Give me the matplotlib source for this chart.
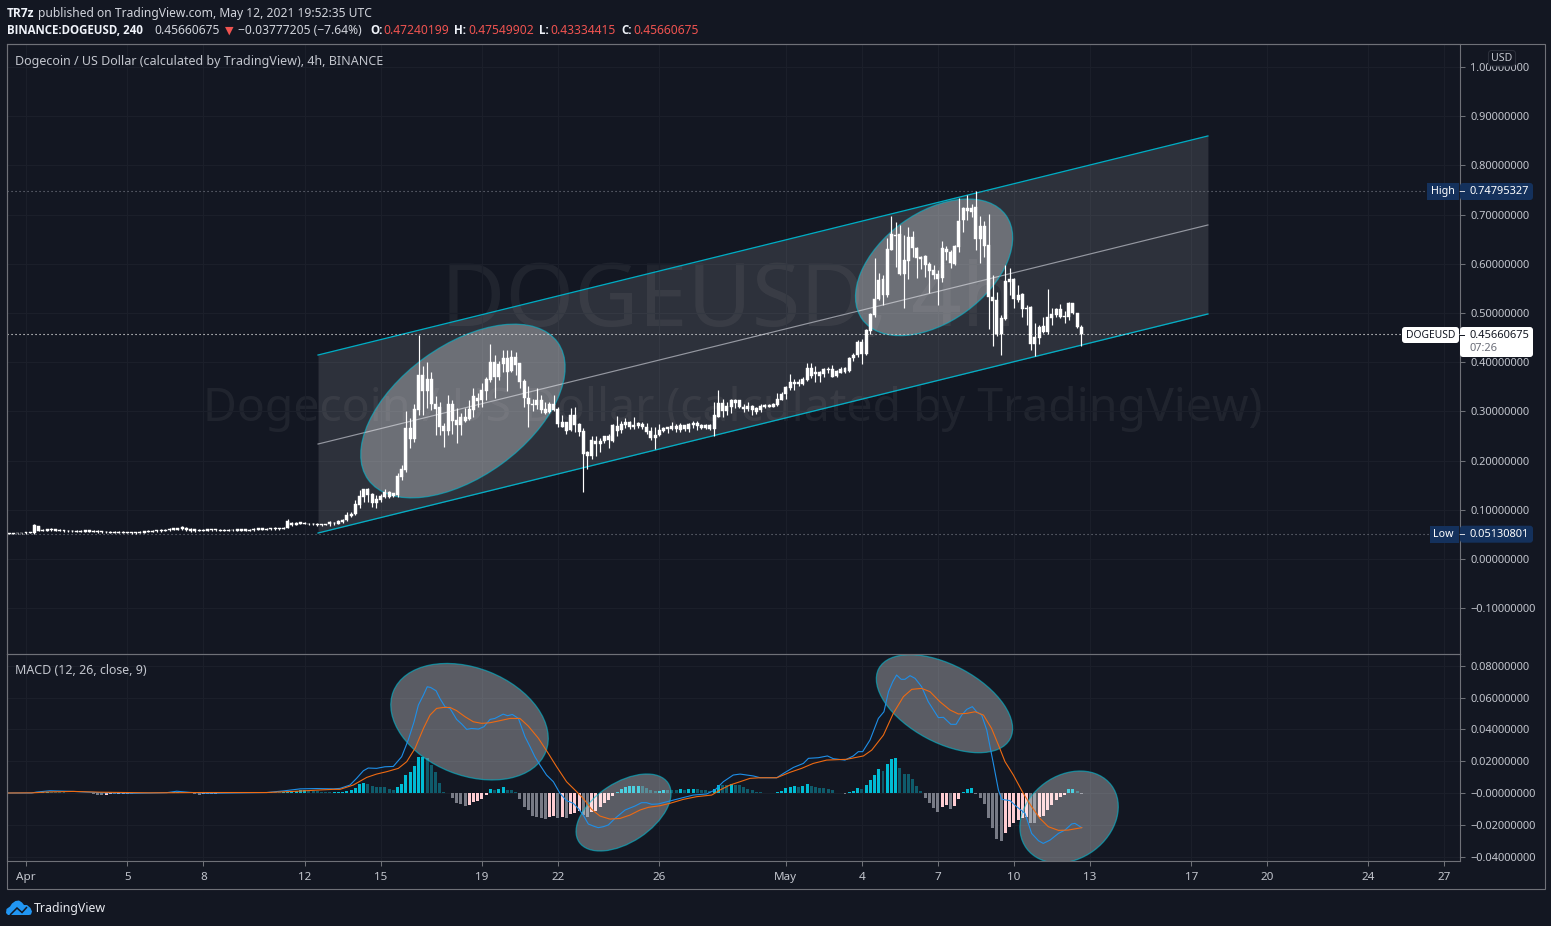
import numpy as np
import matplotlib
matplotlib.use("Agg")
import matplotlib.pyplot as plt
from matplotlib.patches import Ellipse, Rectangle, FancyBboxPatch, Polygon
from matplotlib.transforms import Affine2D, IdentityTransform

# ---------- data (prices in thousandths of a dollar, one bar every 4 h, first bar 4 bars before Apr 1) ----------
bar_index = list(range(-4, 251))

body_top = [52,52,52,52,54,54,69,67,59,60,61,60,59, 58,57,57,57,57, 58,58,57,57,56, 55,55,55,55,55, 54,54,54,55,56,
 57,57,58,58,59, 61,62,62,65,64, 61,60,59,59,60, 60,60,59,59,59, 59,60,60,60,59, 61,62,62,61,63, 63,63,64,78,74, 73,
 75,74,72,72,71,71,71,75,74,78, 80,89,92,112,128,142,143,133,122,128, 136,136,134,168,183,267,267,305,374,374,
 365,365,316,308,270,316,316,282,288,288, 304,331,328,343,366,400,400,396,408,408, 411,411,398,362,328,316,323,323,304,315,
 315,305,278,278,293,293,274,260,217,242, 240,240,249,249,272,270,274,279,278,272, 276,274,269,261,252,263,267,268,270,270,
 272,272,274,276,277,272,272,273,292,318, 318,311,323,323,323,309,311,311,306,311, 313,314,315,325,336,349,359,360,360,365,
 389,389,380,380,386,387,387,382,387,389, 408,414,441,441,465,497,528,568,570,630, 660,658,660,608,654,654,633,613,616,599,
 587,580,633,631,624,636,688,713,713,713, 715,677,677,638,533,526,489,565,570,570, 536,538,511,513,452,472,473,492,497,508,
 508,494,521,521,499,472]

body_low = [51,51,52,52,52,53,52,57,57,57,58,57,57, 56,56,56,55,55, 55,55,55,54,54, 54,53,53,53,53, 53,52,52,53,53,
 55,55,56,56,57, 58,59,59,60,59, 57,56,57,57,57, 58,58,57,57,57, 58,57,57,57,57, 58,59,59,59,60, 60,60,61,64,69, 70,
 72,72,71,71,70,70,70,71,73,72, 76,79,87,91,109,126,130,113,113,120, 126,127,128,131,166,181,243,243,303,342,
 342,316,304,269,261,261,280,272,272,281, 284,303,321,323,342,364,369,369,396,381, 382,394,359,327,316,313,312,303,297,299,
 303,274,269,261,262,272,259,213,210,209, 234,234,240,242,240,261,262,272,268,269, 271,268,258,245,246,252,261,265,265,265,
 263,265,264,272,271,267,267,265,265,289, 301,300,308,317,308,304,304,303,299,303, 309,309,309,313,323,335,347,355,355,355,
 363,372,376,372,377,384,370,372,378,380, 382,408,414,416,416,464,496,528,536,536, 629,656,579,579,606,633,612,610,597,586,
 578,570,572,623,601,599,635,689,708,706, 650,650,637,532,525,457,457,488,563,528, 526,509,509,438,438,450,462,462,490,496,
 492,491,491,499,472,457]

wick_high = [53,53,53,53,55,55,71,68,60,61,62,61,60, 59,58,58,58,58, 59,59,58,58,57, 56,56,56,56,56, 55,55,55,56,57,
 58,58,59,60,61, 63,64,64,67,66, 62,61,60,60,61, 61,61,60,60,60, 60,61,61,61,60, 62,63,63,62,64, 65,64,65,81,76, 75,
 76,75,73,73,73,72,72,77,76,79, 82,96,96,120,140,143,145,135,130,132, 143,139,135,174,192,301,286,316,455,392,
 400,381,331,320,277,333,323,306,296,306, 323,347,337,357,369,437,415,403,425,425, 425,421,398,365,352,326,347,333,320,320,
 333,308,293,279,306,308,277,267,220,249, 249,245,251,255,274,291,280,286,280,289, 279,279,276,269,269,274,269,269,279,274,
 276,273,277,280,280,275,275,275,319,344, 326,319,326,326,324,316,319,313,309,316, 316,316,317,338,340,351,377,366,365,370,
 399,399,392,382,389,391,394,385,391,391, 411,419,446,448,467,499,611,582,577,652, 697,684,679,658,674,667,635,616,618,604,
 597,587,647,636,628,638,733,715,740,721, 748,697,686,702,577,543,496,597,591,572, 557,540,516,514,480,475,492,549,511,511,
 519,504,523,521,500,475]

wick_low = [51,51,51,51,51,52,51,56,56,56,57,56,56, 55,55,54,54,54, 54,54,54,53,53, 53,52,52,52,52, 52,51,51,52,52,
 54,54,55,55,56, 57,58,58,59,57, 55,55,56,56,56, 57,57,56,56,56, 57,56,56,56,56, 57,58,58,58,59, 59,59,60,63,68, 69,
 71,71,69,69,68,68,69,68,70,71, 74,78,86,90,103,116,116,105,103,116, 123,123,126,126,160,177,225,238,293,293,
 306,303,252,252,228,252,255,235,252,279, 282,289,308,308,323,360,328,364,381,342, 381,374,347,308,269,301,304,296,295,296,
 301,268,269,254,260,259,250,137,182,204, 209,218,235,226,238,249,257,267,265,265, 267,265,255,242,223,249,259,257,262,259,
 259,261,259,267,263,265,265,263,250,288, 289,292,296,306,306,299,301,292,294,299, 306,308,308,311,323,326,343,343,351,353,
 362,367,360,360,370,378,369,370,378,379, 380,403,411,396,414,457,492,526,516,533, 629,594,577,511,570,614,572,589,574,540,
 570,516,564,608,591,597,625,665,689,696, 628,601,614,467,433,453,414,486,536,511, 523,491,475,424,412,438,460,458,475,492,
 489,480,486,498,469,433]

# MACD histogram, thousandths
macd_hist = [0,0,0,0,0,.1,.3,.5,.6,
 .7,.6,.5,.5,.4,.3,.2,.1,-.1,-.3, -.3,-.4,-1.0,-1.1,-1.1,-.8,-.9,-.7,-.6,-.4,
 -.6,-.3,-.2,-.1,0,0,.1,.1,.2,.2, .5,.6,.6,.3,-.2,-.4,-1.0,-.8,-.6,-.5,
 -.4,-.3,.3,.4,.5,.6,.6,.5,.4,.3, .3,.3,.5,.6,.4,.4,.5,.7,1,1.5,
 1.8,2,1.5,1.2,1,.6,.4,.4,.5,.7, .8,1.3,2.1,3.4,5.5,6.5,5.9,4.4,3.8,3.8,
 3.8,2.5,2.1,3.8,5.7,11.3,13.4,17,22.6,22.7, 21.8,17.6,13.2,6.5,.8,.2,-2.9,-6.1,-6.9,-8.2,
 -7.3,-5.7,-4.8,-3.8,-1,2.3,1.9,2.5,3.8,2.1, 1.9,.6,-3.8,-8.6,-10.9,-14.3,-14.9,-15.9,-16.3,-14.9,
 -14.5,-15.5,-14.9,-15.9,-13.2,-12.8,-11.5,-13.8,-14.9,-11.7, -11.3,-8.6,-6.5,-4.4,-1.7,.8,2.5,3.6,4.2,4.4,
 4.6,4.4,3.1,1.9,1,1.5,1.9,1.9,1.9,1.7, 2.3,2.1,2.5,2.6,2.3,1.9,1.9,1.3,2.5,5,
 5,5,5.7,5,5,4,2.5,1.9,.8,.4, .2,.1,.1,.8,1.3,2.9,4,4.4,4,4.6,
 5.7,4.4,4,3.4,3.1,2.5,1.7,.2,.1,-.8, .4,1.3,3.1,2.5,5,8.2,11.3,15.1,14,18.2,
 21.2,22,15.9,11.9,11.9,8.8,4.6,1.3,-3.4,-6.3, -9.2,-11.7,-8.6,-7.5,-10.1,-8.2,-3.8,.6,2.5,3.1,
 -.8,-3.1,-6.9,-15.9,-21.8,-28.9,-30.2,-25.2,-21.2,-18.7, -17,-15.9,-14.9,-18.7,-18.8,-14.9,-14.3,-10.7,-7.5,-4.4,
 -2.5,-1,2.5,2.6,1.5,-.6]

macd_days = [-.70,.22,.42,.95,1.87,2.92,4.24,5.55,5.95,6.47,7.13,9.50,10.16,10.82,11.47,12.13,
 12.40,12.79,13.05,13.32,13.51,13.84,14.17,14.50,14.83,15.09,15.32,15.49,15.69,15.84,15.97,16.19,16.34,16.54,16.74,17.00,
 17.20,17.40,17.59,17.86,18.08,18.32,18.51,18.84,19.01,19.20,19.44,19.70,19.90,20.09,20.29,20.55,20.82,21.08,21.34,21.61,
 21.80,22.00,22.20,22.40,22.59,22.79,22.99,23.25,23.65,24.04,24.30,24.50,24.70,24.96,25.42,25.82,26.34,26.87,27.20,27.53,27.92,
 28.19,28.72,28.98,29.64,29.90,30.30,30.69,30.89,31.28,31.64,31.87,32.33,32.66,32.86,33.03,33.32,33.65,33.87,34.05,34.22,34.37,
 34.55,34.70,34.90,35.10,35.36,35.62,36.02,36.22,36.51,36.72,36.94,37.14,37.36,37.53,37.73,37.93,38.19,38.39,38.52,38.85,39.11,
 39.44,39.70,39.97,40.16,40.43,40.76,41.02,41.28,41.41,41.68]
macd_line = [0,0,.6,1.4,1.0,.2,-.2,.2,1.1,.4,-.2,.3,1.3,2.6,2.8,2.6,
 2.9,5.0,9.2,14.0,15.7,15.5,16.5,16.7,22.8,33.3,44.8,55.3,61.6,66.8,66.4,64.3,59.5,54.3,53.2,46.3,
 43.4,40.0,40.6,40.2,41.7,46.3,46.9,49.6,48.6,49.4,46.9,35.4,29.1,22.8,17.6,11.3,7.1,-.2,-4.8,-6.5,
 -9.7,-13.9,-19.5,-20.8,-21.8,-21.2,-20.1,-16,-10.7,-8.2,-6.1,-6.1,-7.1,-6.9,-5,-3.4,-1.3,-.6,1.9,7.1,11.3,
 11.9,10.7,9.6,9.6,12.3,16.1,18.6,21.8,22.2,23.3,21.6,20.7,23.3,26,26,33.3,46.9,51.1,63.7,70,74.2,
 71.5,71.5,73.8,72.1,66.8,57.4,47.4,47.6,43.2,43.2,49,52.6,54.3,51.1,49,39.6,18.6,1.9,-4,-4.8,-8.6,
 -12.8,-25.4,-30,-31.7,-29.6,-25.4,-23.3,-19.5,-19.1,-21.8]

signal_days = [-.70,.23,.95,1.87,2.92,4.9,6.87,9.5,10.55,11.47,12.13,
 12.40,12.92,13.45,13.84,14.24,14.70,15.03,15.36,15.69,15.95,16.21,16.47,16.74,17.00,17.33,17.66,17.99,18.32,18.71,19.11,19.50,
 19.83,20.23,20.62,20.95,21.34,21.74,22.00,22.33,22.66,23.05,23.45,23.84,24.24,24.57,25.03,25.42,25.95,26.48,27.07,27.40,27.79,
 28.19,28.58,28.98,29.64,30.16,30.62,31.08,31.61,32.40,33.06,33.39,33.85,34.24,34.64,34.97,35.36,35.69,36.08,36.48,36.81,37.14,37.47,
 37.80,38.12,38.39,38.65,38.98,39.37,39.70,40.03,40.36,40.76,41.15,41.68]
signal_line = [0,.1,.7,1.0,.5,.1,.3,.3,1.0,1.8,2.3,
 2.3,5,9.8,11.9,13.4,15.5,19.7,28.1,40.6,49,53.2,53.8,53.8,51.8,48,44.8,43.8,44.2,45.5,46.9,46.9,
 42.1,34.4,24.9,16.5,7.1,.8,-3.4,-10.3,-14.5,-16.4,-16,-13.9,-10.7,-9,-8,-6.5,-4,-2.3,-1.3,1.9,5,
 7.1,9.2,9.6,9.6,13,15.5,18.6,20.7,21.2,23.3,27,36.4,50.1,60.6,65.2,65.8,63.7,57.4,52.2,49.7,50.1,51.1,
 49,40.6,30.2,19.7,11.3,-.2,-8.6,-16,-21.2,-23.5,-23.3,-21.8]

# channel drawing
channel_days = [11.53, 46.66]
channel_upper = [0.4146, 0.8598]
channel_mid = [0.2337, 0.6789]
channel_lower = [0.0528, 0.4980]

# time axis: day offset from Apr 1 and label
time_ticks = [0, 4, 7, 11, 14, 18, 21, 25, 30, 33, 36, 39, 42, 46, 49, 53, 56]
time_labels = ["Apr", "5", "8", "12", "15", "19", "22", "26", "May", "4", "7", "10", "13", "17", "20", "24", "27"]
price_ticks = [1.0, .9, .8, .7, .6, .5, .4, .3, .2, .1, 0.0, -.1]
price_labels = ["1.00000000", "0.90000000", "0.80000000", "0.70000000", "0.60000000", "0.50000000", "0.40000000",
                "0.30000000", "0.20000000", "0.10000000", "0.00000000", "\u22120.10000000"]
macd_ticks = [.08, .06, .04, .02, 0.0, -.02, -.04]
macd_labels = ["0.08000000", "0.06000000", "0.04000000", "0.02000000", "\u22120.00000000", "\u22120.02000000", "\u22120.04000000"]

price_high = 0.74795327
price_low = 0.05130801
price_last = 0.45660675

# ---------- style ----------
BG = "#131722"
FRAME = "#6f7178"
GRID = "#1b1f2a"
TXT = "#c3c6ce"
CYAN = "#00bcd4"
FONT = "Noto Sans"
BOLD = "Open Sans"
plt.rcParams["font.family"] = FONT

W, H = 1551, 926
fig = plt.figure(figsize=(W / 100, H / 100), dpi=100, facecolor=BG)
pix = Affine2D().scale(1, -1).translate(0, H)  # reference pixel coordinates


def add_axes(x0, y0, x1, y1):
    a = fig.add_axes([x0 / W, 1 - y1 / H, (x1 - x0) / W, (y1 - y0) / H])
    a.set_facecolor("none")
    return a


X0, X1 = 7, 1460
ax = add_axes(X0, 44, X1, 653.5)
ax2 = add_axes(X0, 653.5, X1, 861)
xlim = ((X0 - 26) / 25.33, (X1 - 26) / 25.33)
ax.set_xlim(*xlim)
ax2.set_xlim(*xlim)
ax.set_ylim((559 - 653.5) / 492, (559 - 44) / 492)
ax2.set_ylim((793 - 861) / 1590, (793 - 653.5) / 1590)

for a in (ax, ax2):
    for s in a.spines.values():
        s.set_color(FRAME)
        s.set_linewidth(0.8)
    a.grid(True, color=GRID, linewidth=0.8, zorder=0)
    a.set_axisbelow(True)
    a.yaxis.tick_right()
    a.tick_params(axis="y", colors=FRAME, length=3.6, width=0.75, pad=3.8, labelcolor=TXT, labelsize=7.95)
    a.set_xticks(time_ticks)

ax.set_yticks(price_ticks)
ax.set_yticklabels(price_labels)
ax2.set_yticks(macd_ticks)
ax2.set_yticklabels(macd_labels)
ax.tick_params(axis="x", length=0, labelbottom=False)
ax2.set_xticklabels(time_labels)
ax2.tick_params(axis="x", colors=FRAME, length=3.6, width=0.75, pad=4.6, labelcolor=TXT, labelsize=8.4)

# outer frame
fig.add_artist(Rectangle((6.5, 43.5), 1538.5, 845.5, transform=pix, fill=False, edgecolor=FRAME, linewidth=0.8, zorder=1))

# watermark
ax.text(729, 303, "DOGEUSD, 4h", transform=pix, fontsize=63.5, color="white", alpha=0.06, ha="center", va="center", zorder=0.5)
ax.text(733, 409, "Dogecoin / US Dollar (calculated by TradingView)", transform=pix, fontsize=33.4, color="white", alpha=0.06,
        ha="center", va="center", zorder=0.5)

# channel
ax.fill_between(channel_days, channel_lower, channel_upper, color="white", alpha=0.115, linewidth=0, zorder=1)
ax.plot(channel_days, channel_upper, color=CYAN, lw=0.95, zorder=1.5, alpha=0.9)
ax.plot(channel_days, channel_lower, color=CYAN, lw=0.95, zorder=1.5, alpha=0.9)
ax.plot(channel_days, channel_mid, color="#9598a1", lw=0.85, zorder=1.5)


def oval(a, day, val, major, minor, angle):
    centre = a.transData.transform((day, val))
    a.add_patch(Ellipse(centre, 2 * major, 2 * minor, angle=angle, transform=IdentityTransform(),
                        facecolor=(1, 1, 1, 0.30), edgecolor=(0.0, 0.74, 0.83, 0.6), linewidth=0.9, zorder=2))


oval(ax, 17.25, .3008, 117, 65.6, 36)
oval(ax, 35.85, .5929, 88.7, 54.6, 36)
oval(ax2, 17.51, .04484, 82, 53.6, -21.6)
oval(ax2, 23.59, -.01226, 53.4, 29.8, 33.4)
oval(ax2, 36.26, .05616, 74.5, 38.7, -28.2)
oval(ax2, 41.18, -.01509, 52.9, 41.7, 36.6)

# dotted level lines
for level, col in ((price_high, "#787b86"), (price_low, "#787b86"), (price_last, "white")):
    ax.axhline(level, color=col, lw=0.8, ls=(0, (1.0, 2.6)), zorder=2.5)

# candles
days = np.array(bar_index) / 6.0
top = np.array(body_top) / 1000.0
low = np.array(body_low) / 1000.0
ax.vlines(days, np.array(wick_low) / 1000.0, np.array(wick_high) / 1000.0, color="white", lw=0.85, zorder=3)
ax.bar(days, top - low, bottom=low, width=0.118, color="white", edgecolor="white", linewidth=0.3, zorder=3.1)

# MACD
hist = np.array(macd_hist) / 1000.0
prev = np.concatenate(([0.0], hist[:-1]))
cols = np.where(hist >= 0, np.where(hist > prev, "#00bcd4", "#0f5b6b"), np.where(hist < prev, "#787b86", "#ffcdd2"))
ax2.bar(days, hist, width=0.118, color=list(cols), linewidth=0, zorder=1.5)
ax2.plot(macd_days, np.array(macd_line) / 1000.0, color="#1e8fe8", lw=0.8, zorder=3)
ax2.plot(signal_days, np.array(signal_line) / 1000.0, color="#ee6a12", lw=0.8, zorder=3.1)


def tx(x, y, s, color=TXT, size=8.7, weight="normal", ha="left", z=8, family=None):
    fam = family or (BOLD if weight == "bold" else FONT)
    fig.text(x, y + 0.8, s, transform=pix, color=color, fontsize=size, fontweight=weight, ha=ha, va="center", zorder=z, family=fam)


# header
RED = "#ef5350"
tx(7, 12.5, "TR7z", color="#f0f3fa", weight="bold", size=8.6)
tx(37.5, 12.5, "published on TradingView.com, May 12, 2021 19:52:35 UTC", color="#d1d4dc")
tx(7, 29.5, "BINANCE:DOGEUSD, 240", color="#f0f3fa", weight="bold", size=8.3)
tx(154, 29.5, "0.45660675", color="#d1d4dc")
tx(225, 29.5, "\u25BC", color=RED, size=8, family=["DejaVu Sans"])
tx(238, 29.5, "\u22120.03777205 (\u22127.64%)", color="#d1d4dc")
for xl, lab, xv, val in ((370, "O:", 383, "0.47240199"), (454, "H:", 468, "0.47549902"),
                         (539, "L:", 550, "0.43334415"), (621, "C:", 633, "0.45660675")):
    tx(xl, 29.5, lab, color="#f0f3fa", weight="bold", size=8.3)
    tx(xv, 29.5, val, color=RED)
tx(15, 60.2, "Dogecoin / US Dollar (calculated by TradingView), 4h, BINANCE", size=9.0)
tx(15, 670.2, "MACD (12, 26, close, 9)", size=8.95)


# price tags
def box(x, y, w, h, color, ec="none", rounded=False):
    if rounded:
        p = FancyBboxPatch((x, y), w, h, boxstyle="round,pad=0,rounding_size=3", transform=pix, facecolor=color,
                           edgecolor=ec, linewidth=0.8, zorder=6, mutation_aspect=1)
    else:
        p = Rectangle((x, y), w, h, transform=pix, facecolor=color, edgecolor=ec, linewidth=0, zorder=6)
    fig.add_artist(p)


TAG = "#14315c"
for label, yc, val in (("High", 191.5, "0.74795327"), ("Low", 534.2, "0.05130801")):
    box(1427 if label == "High" else 1430, yc - 8.5, 32 if label == "High" else 29, 17, TAG)
    box(1460, yc - 8.5, 73, 17, TAG, rounded=True)
    tx(1431 if label == "High" else 1433, yc - 0.5, label, color="white", size=7.7)
    tx(1470, yc - 0.5, val, color="white", size=7.95)
    fig.add_artist(Rectangle((1460, yc - 0.5), 5, 1, transform=pix, facecolor="#d1d4dc", zorder=7))

box(1402, 327, 57, 16, "white", rounded=True)
box(1460, 327, 73, 30, "white", rounded=True)
tx(1406, 334.5, "DOGEUSD", color="#131722", size=7.4)
tx(1470, 334.5, "0.45660675", color="#131722", size=7.95)
tx(1470, 347.5, "07:26", color="#6a6d78", size=7.95)
fig.add_artist(Rectangle((1460, 334.5), 5, 1, transform=pix, facecolor="#131722", zorder=7))

# USD badge
box(1488.5, 50.5, 27, 15.5, BG, ec="#2a2e39", rounded=True)
tx(1502, 57.5, "USD", color=TXT, size=7.6, ha="center")

# logo
cloud = [(6, 913), (6.5, 909), (10, 906.5), (12, 903.5), (15.5, 901), (19, 900.5), (22, 902.5), (24, 905),
         (27, 905), (30.5, 908), (32, 911.5), (31, 914.5), (29, 915), (8, 915)]
fig.add_artist(Polygon(cloud, closed=True, transform=pix, facecolor="#2196f3", edgecolor="none", zorder=7))
zig = [(10, 915), (17, 908), (22, 912.5), (27, 907)]
fig.add_artist(Polygon(zig, closed=False, transform=pix, fill=False, edgecolor=BG, linewidth=1.1, zorder=7.5))
tx(34, 907.5, "TradingView", color="#e6e8ee", size=8.9)

fig.savefig("out.png", dpi=100, facecolor=BG)
